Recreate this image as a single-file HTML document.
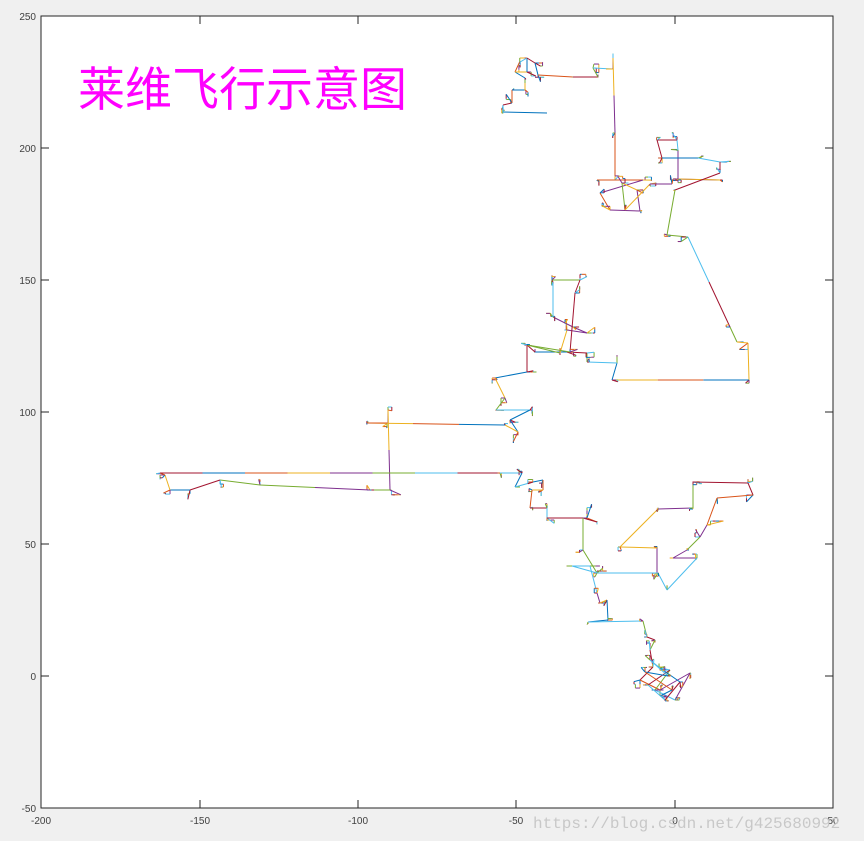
<!DOCTYPE html>
<html><head><meta charset="utf-8"><style>
html,body{margin:0;padding:0;background:#f0f0f0;}
svg{display:block;}
</style></head><body>
<svg id="s" xmlns="http://www.w3.org/2000/svg" width="864" height="841" viewBox="0 0 864 841">
<rect x="0" y="0" width="864" height="841" fill="#f0f0f0"/>
<rect x="41" y="16" width="792" height="792" fill="#fff" stroke="#262626" stroke-width="1"/>
<g stroke="#262626" stroke-width="1">
<line x1="200" y1="808" x2="200" y2="800"/><line x1="358" y1="808" x2="358" y2="800"/><line x1="516" y1="808" x2="516" y2="800"/><line x1="675" y1="808" x2="675" y2="800"/>
<line x1="200" y1="16" x2="200" y2="24"/><line x1="358" y1="16" x2="358" y2="24"/><line x1="516" y1="16" x2="516" y2="24"/><line x1="675" y1="16" x2="675" y2="24"/>
<line x1="41" y1="148" x2="49" y2="148"/><line x1="41" y1="280" x2="49" y2="280"/><line x1="41" y1="412" x2="49" y2="412"/><line x1="41" y1="544" x2="49" y2="544"/><line x1="41" y1="676" x2="49" y2="676"/>
<line x1="833" y1="148" x2="825" y2="148"/><line x1="833" y1="280" x2="825" y2="280"/><line x1="833" y1="412" x2="825" y2="412"/><line x1="833" y1="544" x2="825" y2="544"/><line x1="833" y1="676" x2="825" y2="676"/>
</g>
<g font-family="Liberation Sans, sans-serif" font-size="10" fill="#404040">
<text x="36" y="20" text-anchor="end">250</text><text x="36" y="152" text-anchor="end">200</text><text x="36" y="284" text-anchor="end">150</text><text x="36" y="416" text-anchor="end">100</text><text x="36" y="548" text-anchor="end">50</text><text x="36" y="680" text-anchor="end">0</text><text x="36" y="812" text-anchor="end">-50</text>
<text x="41" y="824" text-anchor="middle">-200</text><text x="200" y="824" text-anchor="middle">-150</text><text x="358" y="824" text-anchor="middle">-100</text><text x="516" y="824" text-anchor="middle">-50</text><text x="675" y="824" text-anchor="middle">0</text><text x="833" y="824" text-anchor="middle">50</text>
</g>
<text x="78" y="106" font-family="Liberation Sans, 'Noto Sans CJK SC', sans-serif" font-size="47" fill="#ff00ff">莱维飞行示意图</text>
<g id="p" fill="none" stroke-width="1"></g>
<text x="533" y="828" font-family="Liberation Mono, monospace" font-size="16" fill="#c8c8c8">https://blog.csdn.net/g425680992</text>
</svg>
<script>
var P=[[547,113],[502,112],[503,105],[512,103],[512,90],[525,90],[525,78],[515,72],[527,72],[527,58],[535,63],[538,75],[573,77],[598,77],[593,68],[613,69],[613,58],[615,133],[615,180],[597,180],[643,180],[600,193],[610,210],[640,211],[637,190],[622,183],[625,210],[650,184],[672,184],[673,179],[720,180],[678,179],[678,150],[677,140],[657,140],[662,158],[698,158],[720,162],[720,173],[675,190],[667,235],[688,237],[730,327],[737,342],[748,343],[749,380],[612,380],[617,363],[587,362],[587,353],[567,352],[535,352],[527,345],[560,353],[567,330],[587,333],[573,327],[565,323],[553,317],[553,282],[552,280],[580,280],[575,293],[570,352],[527,345],[527,372],[495,378],[505,398],[496,410],[530,410],[510,420],[518,432],[505,425],[367,423],[388,423],[388,410],[390,490],[370,490],[260,485],[220,480],[190,490],[170,490],[165,475],[160,473],[500,473],[522,473],[515,487],[533,482],[543,480],[543,490],[532,490],[530,508],[547,508],[547,518],[587,518],[597,522],[583,518],[583,550],[597,573],[657,573],[657,548],[620,547],[658,509],[693,508],[693,482],[748,483],[753,495],[717,498],[707,525],[700,537],[687,550],[673,558],[697,558],[667,590],[658,573],[597,573],[572,566],[590,566],[597,593],[600,603],[607,600],[608,620],[588,622],[643,621],[647,637],[655,640],[650,650],[653,667],[640,680],[660,690],[690,673],[675,700],[655,690],[670,670],[648,685],[665,700],[680,682],[660,668],[650,660],[668,676],[645,672],[672,690],[660,696]];
var C=["#0072BD","#D95319","#EDB120","#7E2F8E","#77AC30","#4DBEEE","#A2142F"];
var g=document.getElementById('p'),ns="http://www.w3.org/2000/svg",seed=7,ci=0;
function r(){seed=(seed*16807)%2147483647;return seed/2147483647;}
function ln(a,b,c,d){var l=document.createElementNS(ns,'line');l.setAttribute('x1',a);l.setAttribute('y1',b);l.setAttribute('x2',c);l.setAttribute('y2',d);l.setAttribute('stroke',C[ci%7]);ci++;g.appendChild(l);}
for(var i=0;i<P.length-1;i++){
 var a=P[i],b=P[i+1],n=Math.max(1,Math.round(Math.hypot(b[0]-a[0],b[1]-a[1])/45));
 var x=a[0],y=a[1];
 for(var k=1;k<=n;k++){var nx=a[0]+(b[0]-a[0])*k/n,ny=a[1]+(b[1]-a[1])*k/n;ln(x,y,nx,ny);x=nx;y=ny;}
 var m=3+Math.floor(r()*5),cx=b[0],cy=b[1];
 for(var j=0;j<m;j++){var dx=(r()-0.5)*10,dy=(r()-0.5)*10;if(r()<0.5)dx=0;else dy=0;ln(cx,cy,cx+dx,cy+dy);cx+=dx;cy+=dy;}
 ln(cx,cy,b[0],b[1]);
}
</script>
</body></html>
